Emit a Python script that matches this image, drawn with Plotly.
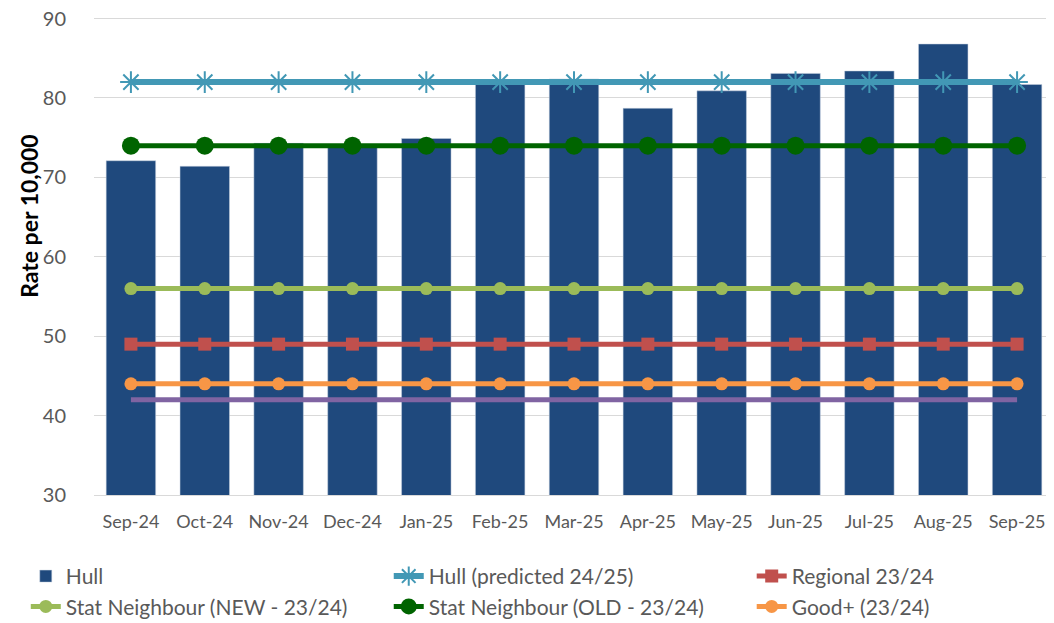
import plotly.graph_objects as go

months = ['Sep-24', 'Oct-24', 'Nov-24', 'Dec-24', 'Jan-25', 'Feb-25', 'Mar-25',
          'Apr-25', 'May-25', 'Jun-25', 'Jul-25', 'Aug-25', 'Sep-25']
hull = [72.1, 71.4, 74.3, 74.1, 74.9, 82.3, 82.4, 78.7, 80.9, 83.1, 83.4, 86.8, 81.7]
hull_predicted = [82] * 13
regional = [49] * 13
stat_new = [56] * 13
stat_old = [74] * 13
good_plus = [44] * 13
purple_line = [42] * 13

font_name = "Lato"
grey = "#595959"

fig = go.Figure()

fig.add_trace(go.Bar(
    x=months, y=hull, name='Hull', legend='legend', legendgroup='a',
    marker=dict(color='#1f497d', line=dict(color='#c9d3e0', width=0.5)),
))
fig.add_trace(go.Scatter(
    x=months, y=purple_line, mode='lines', showlegend=False,
    line=dict(color='#8064a2', width=5),
))
fig.add_trace(go.Scatter(
    x=months, y=hull_predicted, name='Hull (predicted 24/25)', mode='lines+markers',
    legend='legend2', legendgroup='b',
    line=dict(color='#4298b5', width=6),
    marker=dict(symbol='asterisk-open', size=18, color='#4298b5', line=dict(width=2, color='#4298b5')),
))
fig.add_trace(go.Scatter(
    x=months, y=regional, name='Regional 23/24', mode='lines+markers',
    legend='legend3', legendgroup='c',
    line=dict(color='#c0504d', width=5),
    marker=dict(symbol='square', size=13, color='#c0504d'),
))
fig.add_trace(go.Scatter(
    x=months, y=stat_new, name='Stat Neighbour (NEW - 23/24)', mode='lines+markers',
    legend='legend', legendgroup='d',
    line=dict(color='#9bbb59', width=5),
    marker=dict(symbol='circle', size=13, color='#9bbb59'),
))
fig.add_trace(go.Scatter(
    x=months, y=stat_old, name='Stat Neighbour (OLD - 23/24)', mode='lines+markers',
    legend='legend2', legendgroup='e',
    line=dict(color='#006400', width=5),
    marker=dict(symbol='circle', size=18, color='#006400'),
))
fig.add_trace(go.Scatter(
    x=months, y=good_plus, name='Good+ (23/24)', mode='lines+markers',
    legend='legend3', legendgroup='f',
    line=dict(color='#f79646', width=5),
    marker=dict(symbol='circle', size=13, color='#f79646'),
))

legend_style = dict(
    xref='container', yref='container', xanchor='left',
    y=0.109, yanchor='top',
    font=dict(size=21, color=grey),
    traceorder='grouped', tracegroupgap=0,
)

fig.update_layout(
    width=1046, height=615,
    margin=dict(l=86, r=0, t=9, b=128, autoexpand=False),
    plot_bgcolor='white', paper_bgcolor='white',
    bargap=0.33,
    font=dict(family=font_name, color=grey),
    xaxis=dict(
        range=[-0.5, 12.5],
        tickfont=dict(size=18, color=grey),
        showgrid=False, showline=True, linecolor='#d9d9d9',
        ticks='', ticklabelstandoff=10,
    ),
    yaxis=dict(
        range=[30, 90.2], tick0=30, dtick=10,
        tickfont=dict(size=20, color=grey),
        gridcolor='#d9d9d9', gridwidth=1,
        zeroline=False, showline=False,
        ticks='', ticklabelstandoff=27, ticklabeloverflow='allow',
    ),
    legend=dict(legend_style, x=0.017),
    legend2=dict(legend_style, x=0.364),
    legend3=dict(legend_style, x=0.711),
    annotations=[dict(
        text='<b>Rate per 10,000</b>', textangle=-90,
        xref='paper', yref='paper', x=-0.0677, y=0.584,
        xanchor='center', yanchor='middle', showarrow=False,
        font=dict(size=23, color='black'),
    )],
)

fig.write_html("out.html")
